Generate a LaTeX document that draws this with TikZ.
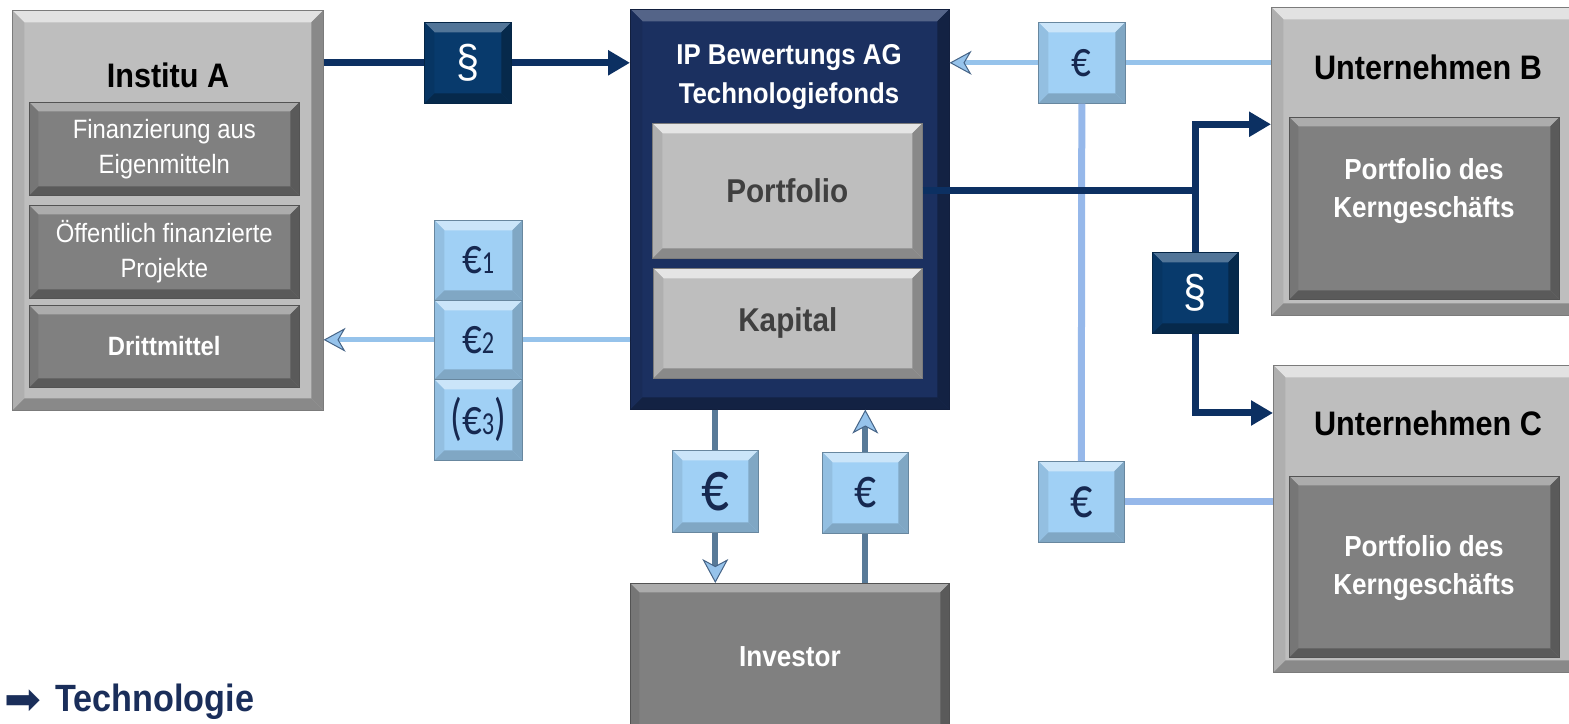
\documentclass[tikz,border=0pt]{standalone}
\usepackage{fontspec}
\setmainfont{Liberation Sans}[FakeStretch=0.9]
\newfontfamily\eurofont{Carlito}[FakeStretch=0.76]
\newfontfamily\symfont{DejaVu Sans}
\usetikzlibrary{arrows.meta,calc}
\definecolor{outerGray}{RGB}{190,190,190}
\definecolor{innerGray}{RGB}{128,128,128}
\definecolor{navyBox}{RGB}{27,48,96}
\definecolor{parBox}{RGB}{8,58,108}
\definecolor{euroBox}{RGB}{160,208,245}
\definecolor{euroText}{RGB}{22,40,80}
\definecolor{navyLine}{RGB}{12,48,98}
\definecolor{lightLine}{RGB}{150,195,235}
\definecolor{periLine}{RGB}{150,184,234}
\definecolor{steelLine}{RGB}{88,122,152}
\definecolor{steelDark}{RGB}{70,100,135}
\definecolor{techColor}{RGB}{26,46,90}
\definecolor{portText}{RGB}{64,64,64}
\tikzset{
  bevel/.style n args={4}{fill=#1, draw=#1!65!black, line width=0.6pt,
    path picture={
      \coordinate (bvsw) at (path picture bounding box.south west);
      \coordinate (bvne) at (path picture bounding box.north east);
      \coordinate (bvnw) at (path picture bounding box.north west);
      \coordinate (bvse) at (path picture bounding box.south east);
      \fill[#1!#3!white] (bvnw) -- (bvne) -- ($(bvne)+(-#2,-#2)$) -- ($(bvnw)+(#2,-#2)$) -- cycle;
      \fill[#1!#4!black] (bvsw) -- (bvse) -- ($(bvse)+(-#2,#2)$) -- ($(bvsw)+(#2,#2)$) -- cycle;
      \fill[#1!92!black] (bvnw) -- ($(bvnw)+(#2,-#2)$) -- ($(bvsw)+(#2,#2)$) -- (bvsw) -- cycle;
      \fill[#1!#4!black] (bvne) -- (bvse) -- ($(bvse)+(-#2,#2)$) -- ($(bvne)+(-#2,-#2)$) -- cycle;
    }},
  boxbase/.style={anchor=north west, inner sep=0pt},
  outerbox/.style={boxbase, bevel={outerGray}{12pt}{45}{72}},
  innerbox/.style={boxbase, bevel={innerGray}{9pt}{65}{70}},
  navybox/.style={boxbase, bevel={navyBox}{12pt}{75}{70}},
  lightbox/.style={boxbase, bevel={outerGray}{10pt}{40}{72}},
  parbox/.style={boxbase, bevel={parBox}{10pt}{70}{70}},
  eurobox/.style={boxbase, bevel={euroBox}{10pt}{55}{80}},
  titletext/.style={font=\bfseries\fontsize{34}{40}\selectfont, text=black},
  whitetext/.style={align=center, text=white, font=\fontsize{26.5}{35}\selectfont},
  whitebold/.style={align=center, text=white, font=\bfseries\fontsize{29}{38}\selectfont},
  navyline/.style={draw=navyLine, line width=7pt},
  navyarrow/.style={navyline, -{Triangle[length=22pt,width=24pt]}},
  lightline/.style={draw=lightLine, line width=5pt},
  lightarrow/.style={lightline, -{Stealth[length=22pt,width=24pt,inset=7pt,line width=1pt,color=steelDark,fill=lightLine]}},
  periline/.style={draw=periLine, line width=7pt},
  steelline/.style={draw=steelLine, line width=6pt},
  steelarrow/.style={steelline, -{Stealth[length=24pt,width=26pt,inset=7pt,line width=1pt,color=steelDark,fill=lightLine]}},
}
\begin{document}
\begin{tikzpicture}[x=1pt,y=-1pt]
\useasboundingbox (0,0) rectangle (1569,723);
\clip (0,0) rectangle (1569,723);

% ---------- Institu A ----------
\node[outerbox, minimum width=311pt, minimum height=400pt] (instA) at (12,10) {};
\node[titletext] (instAt) at (168,75) {Institu A};
\node[innerbox, minimum width=270pt, minimum height=93pt] (fin) at (29,102) {};
\node[whitetext] (fint) at (fin.center) {Finanzierung aus\\Eigenmitteln};
\node[innerbox, minimum width=270pt, minimum height=93pt] (oef) at (29,205) {};
\node[whitetext] (oeft) at (oef.center) {Öffentlich finanzierte\\Projekte};
\node[innerbox, minimum width=270pt, minimum height=82pt] (dritt) at (29,305) {};
\node[whitetext, font=\bfseries\fontsize{26.5}{35}\selectfont] (drittt) at (dritt.center) {Drittmittel};

% ---------- centre ----------
\node[navybox, minimum width=319pt, minimum height=400pt] (ipag) at (630,9) {};
\node[whitebold, font=\bfseries\fontsize{28.7}{39}\selectfont] (ipagt) at (789,77) {IP Bewertungs AG\\Technologiefonds};
\node[lightbox, minimum width=270pt, minimum height=135pt] (port) at (652,123) {};
\node[text=portText, font=\bfseries\fontsize{33}{33}\selectfont] (portt) at (port.center) {Portfolio};
\node[lightbox, minimum width=269pt, minimum height=110pt] (kap) at (653,268) {};
\node[text=portText, font=\bfseries\fontsize{33}{33}\selectfont] (kapt) at (kap.center) {Kapital};

% ---------- small boxes ----------
\node[parbox, minimum width=87pt, minimum height=81pt] (parA) at (424,22) {};
\node[text=white, font=\fontsize{46}{46}\selectfont] (parAt) at (parA.center) {§};
\node[parbox, minimum width=86pt, minimum height=81pt] (parB) at (1152,252) {};
\node[text=white, font=\fontsize{46}{46}\selectfont] (parBt) at (parB.center) {§};

\node[eurobox, minimum width=87pt, minimum height=81pt] (eurT) at (1038,22) {};
\node[text=euroText, font=\eurofont\fontsize{51}{51}\selectfont] (eurTt) at (eurT.center) {€};
\node[eurobox, minimum width=86pt, minimum height=81pt] (eurC) at (1038,461) {};
\node[text=euroText, font=\eurofont\fontsize{58}{58}\selectfont] (eurCt) at (eurC.center) {€};
\node[eurobox, minimum width=86pt, minimum height=82pt] (eurD) at (672,450) {};
\node[text=euroText, font=\eurofont\fontsize{72}{72}\selectfont] (eurDt) at (eurD.center) {€};
\node[eurobox, minimum width=86pt, minimum height=81pt] (eurU) at (822,452) {};
\node[text=euroText, font=\eurofont\fontsize{57}{57}\selectfont] (eurUt) at (eurU.center) {€};

\node[eurobox, minimum width=88pt, minimum height=80pt] (eur1) at (434,220) {};
\node[text=euroText, font=\eurofont\fontsize{51}{51}\selectfont] (eur1t) at (eur1.center) {€\fontsize{32}{32}\selectfont 1};
\node[eurobox, minimum width=88pt, minimum height=79pt] (eur2) at (434,300) {};
\node[text=euroText, font=\eurofont\fontsize{51}{51}\selectfont] (eur2t) at (eur2.center) {€\fontsize{32}{32}\selectfont 2};
\node[eurobox, minimum width=88pt, minimum height=81pt] (eur3) at (434,379) {};
\node[text=euroText, font=\eurofont\fontsize{51}{51}\selectfont] (eur3t) at (eur3.center) {(€\fontsize{32}{32}\selectfont 3\fontsize{51}{51}\selectfont)};

% ---------- Unternehmen B / C ----------
\node[outerbox, minimum width=320pt, minimum height=308pt] (untB) at (1271,7) {};
\node[titletext] (untBt) at (1428,67) {Unternehmen B};
\node[innerbox, minimum width=270pt, minimum height=182pt] (bIn) at (1289,117) {};
\node[whitebold] (bInt) at (1424,191) {Portfolio des\\Kerngeschäfts};

\node[outerbox, minimum width=320pt, minimum height=307pt] (untC) at (1273,365) {};
\node[titletext] (untCt) at (1428,423) {Unternehmen C};
\node[innerbox, minimum width=270pt, minimum height=181pt] (cIn) at (1289,476) {};
\node[whitebold] (cInt) at (1424,568) {Portfolio des\\Kerngeschäfts};

% ---------- Investor ----------
\node[innerbox, minimum width=319pt, minimum height=170pt] (inv) at (630,583) {};
\node[whitebold] (invt) at (790,657) {Investor};

% ---------- Technologie ----------
\node[anchor=base west, inner sep=0pt, text=techColor, font=\symfont\fontsize{44}{44}\selectfont] (techarrow) at (4,714) {➡};
\node[anchor=base west, inner sep=0pt, text=techColor, font=\bfseries\fontsize{38}{38}\selectfont] (tech) at (55,711) {Technologie};

% ---------- connectors ----------
\draw[periline] (eurT.south) -- (eurC.north);
\draw[lightline] (untB.west |- eurT.east) -- (eurT.east);
\draw[lightarrow] (eurT.west) -- (eurT.west -| ipag.east);
\draw[periline] (eurC.east) -- (eurC.east -| untC.west);
\draw[lightline] (ipag.west |- eur2.east) -- (eur2.east);
\draw[lightarrow] (eur2.west) -- (eur2.west -| instA.east);
\draw[steelline] (eurD.north |- ipag.south) -- (eurD.north);
\draw[steelarrow] (eurD.south) -- (eurD.south |- inv.north);
\draw[steelline] (eurU.south |- inv.north) -- (eurU.south);
\draw[steelarrow] (eurU.north) -- (eurU.north |- ipag.south);

\draw[navyline] (instA.east |- parA.west) -- (parA.west);
\draw[navyarrow] (parA.east) -- (parA.east -| ipag.west);
\coordinate (bEntry) at ($(untB.north west)!0.38!(untB.south west)$);
\coordinate (cEntry) at ($(untC.north west)!0.156!(untC.south west)$);
\draw[navyline] (port.east) -- (port.east -| parB.north);
\draw[navyarrow] (parB.north) |- (bEntry);
\draw[navyarrow] (parB.south) |- (cEntry);
\end{tikzpicture}
\end{document}
